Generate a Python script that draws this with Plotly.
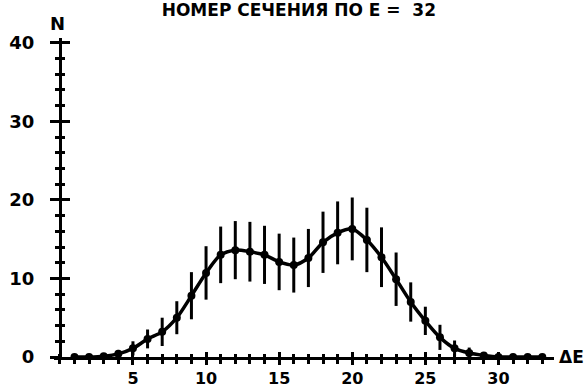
import plotly.graph_objects as go

# ---- data ----
x_vals = list(range(1, 34))
n_vals = [0, 0, 0.1, 0.4, 1.1, 2.3, 3.2, 5.0, 7.8, 10.7, 13.0, 13.6, 13.4, 13.0,
          12.1, 11.7, 12.6, 14.6, 15.8, 16.3, 14.9, 12.7, 9.9, 7.0, 4.6, 2.5,
          1.1, 0.5, 0.2, 0, 0, 0, 0]
err_vals = [0, 0, 0, 0.5, 0.9, 1.2, 1.8, 2.1, 3.0, 3.4, 3.6, 3.7, 3.8, 3.7,
            3.6, 3.5, 3.7, 3.9, 4.0, 4.0, 4.1, 3.8, 3.4, 2.5, 1.8, 1.6,
            1.0, 0.7, 0, 0, 0, 0, 0]
x_ticks = [5, 10, 15, 20, 25, 30]
x_minor = list(range(0, 34))
y_ticks = [0, 10, 20, 30, 40]
y_ticktext = ["0", "10", "20", "30", "40"]
y_minor = list(range(0, 41, 2))
title_text = "НОМЕР СЕЧЕНИЯ ПО E =\u00a0\u00a032"
y_label = "N"
x_label = "ΔE"

# ---- layout geometry ----
W, H = 586, 388
ML, MR, MT, MB = 54, 32, 38, 31
XR = [-0.4, 33.8]
YR = [0, 40.6]
ypos = (0 - XR[0]) / (XR[1] - XR[0])

tfont = dict(family="DejaVu Sans", size=18, color="black", weight="bold")
xfont = dict(family="DejaVu Sans", size=16, color="black", weight="bold")

fig = go.Figure()
fig.add_trace(go.Scatter(
    x=x_vals, y=n_vals, mode="lines+markers",
    line=dict(color="black", width=3.5, shape="spline", smoothing=0.8),
    marker=dict(size=8, color="black"),
    error_y=dict(type="data", array=err_vals, visible=True, color="black",
                 thickness=3, width=0),
    showlegend=False, hoverinfo="skip"))
fig.add_trace(go.Scatter(x=[None], y=[None], xaxis="x2", yaxis="y2",
                         showlegend=False, hoverinfo="skip"))

fig.update_layout(
    width=W, height=H,
    margin=dict(l=ML, r=MR, t=MT, b=MB, pad=0, autoexpand=False),
    paper_bgcolor="white", plot_bgcolor="white",
    title=dict(text=title_text, x=0.51, xanchor="center", y=1 - 10 / H,
               yref="container", yanchor="middle",
               font=dict(family="DejaVu Sans", size=17, color="black",
                         weight="bold")),
    xaxis=dict(range=XR, showline=True, linewidth=3, linecolor="black",
               ticks="outside", ticklen=5, tickwidth=2.5, tickcolor="black",
               tickmode="array", tickvals=x_ticks, tickfont=xfont,
               automargin=False,
               showgrid=False, zeroline=False, anchor="y",
               minor=dict(tickmode="array", tickvals=x_minor, ticks="outside",
                          ticklen=4, tickwidth=2.5, tickcolor="black",
                          showgrid=False)),
    yaxis=dict(range=YR, showline=True, linewidth=3, linecolor="black",
               ticks="outside", ticklen=9, tickwidth=2.5, tickcolor="black",
               tickmode="array", tickvals=y_ticks, ticktext=y_ticktext,
               tickfont=tfont, ticklabelstandoff=12, automargin=False,
               showgrid=False, zeroline=False, anchor="free", position=ypos,
               minor=dict(tickmode="array", tickvals=y_minor, ticks="outside",
                          ticklen=4, tickwidth=2.5, tickcolor="black",
                          showgrid=False)),
    xaxis2=dict(range=XR, overlaying="x", anchor="y", side="bottom",
                showline=False, ticks="inside", ticklen=5, tickwidth=2.5,
                tickcolor="black", tickmode="array", tickvals=x_ticks,
                showticklabels=False, showgrid=False, zeroline=False,
                automargin=False,
                minor=dict(tickmode="array", tickvals=x_minor, ticks="inside",
                           ticklen=3, tickwidth=2.5, tickcolor="black",
                           showgrid=False)),
    yaxis2=dict(range=YR, overlaying="y", anchor="free", position=ypos,
                side="left", showline=False, ticks="inside", ticklen=9,
                tickwidth=2.5, tickcolor="black", tickmode="array",
                tickvals=y_ticks, showticklabels=False, showgrid=False,
                zeroline=False, automargin=False,
                minor=dict(tickmode="array", tickvals=y_minor, ticks="inside",
                           ticklen=4, tickwidth=2.5, tickcolor="black",
                           showgrid=False)),
    annotations=[
        dict(text=y_label, xref="x", x=-0.19, yref="paper", y=1.044,
             xanchor="center", yanchor="middle", showarrow=False, font=tfont),
        dict(text=x_label, xref="paper", x=1.034, yref="y", y=0,
             xanchor="center", yanchor="middle", showarrow=False,
             font=dict(family="DejaVu Sans", size=17, color="black",
                       weight="bold")),
    ],
)

fig.write_html("out.html")
